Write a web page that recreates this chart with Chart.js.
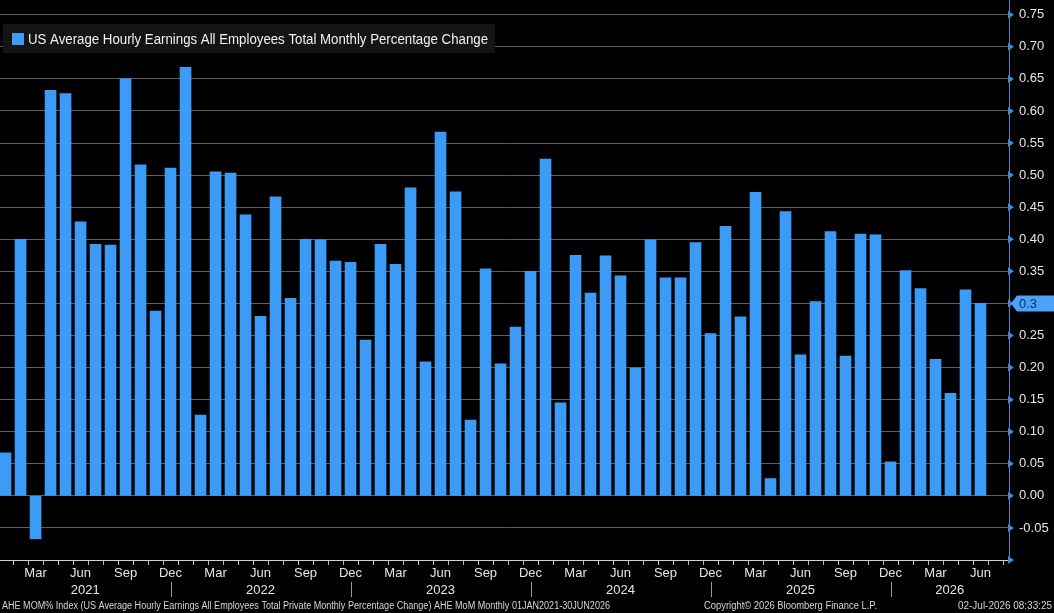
<!DOCTYPE html>
<html>
<head>
<meta charset="utf-8">
<style>
  html, body { margin: 0; padding: 0; background: #000; overflow: hidden; }
  #chart { display: block; }
</style>
<script src="https://cdn.jsdelivr.net/npm/chart.js@4/dist/chart.umd.min.js"></script>
</head>
<body>
<canvas id="chart" width="1054" height="613"></canvas>
<script>
const monthNames = ['Jan', 'Feb', 'Mar', 'Apr', 'May', 'Jun', 'Jul', 'Aug', 'Sep', 'Oct', 'Nov', 'Dec'];
const years = [2021, 2022, 2023, 2024, 2025, 2026];

// monthly % change
const ahe2021 = [0.067, 0.40, -0.067, 0.632, 0.627, 0.427, 0.392, 0.391, 0.650, 0.516, 0.288, 0.511];
const ahe2022 = [0.668, 0.126, 0.505, 0.503, 0.438, 0.280, 0.466, 0.308, 0.400, 0.399, 0.366, 0.364];
const ahe2023 = [0.243, 0.392, 0.361, 0.480, 0.209, 0.567, 0.474, 0.118, 0.354, 0.206, 0.263, 0.350];
const ahe2024 = [0.525, 0.145, 0.375, 0.316, 0.374, 0.343, 0.199, 0.399, 0.340, 0.340, 0.395, 0.253];
const ahe2025 = [0.420, 0.279, 0.473, 0.027, 0.443, 0.220, 0.303, 0.412, 0.218, 0.408, 0.407, 0.053];
const ahe2026 = [0.351, 0.323, 0.213, 0.160, 0.321, 0.30];

const yTickValues = [-0.10, -0.05, 0.00, 0.05, 0.10, 0.15, 0.20, 0.25, 0.30, 0.35, 0.40, 0.45, 0.50, 0.55, 0.60, 0.65, 0.70, 0.75];
const legendText = 'US Average Hourly Earnings All Employees Total Monthly Percentage Change';
const footerLeft = 'AHE MOM% Index (US Average Hourly Earnings All Employees Total Private Monthly Percentage Change) AHE MoM Monthly 01JAN2021-30JUN2026';
const footerMid = 'Copyright\u00A9 2026 Bloomberg Finance L.P.';
const footerRight = '02-Jul-2026 08:33:25';

const values = [].concat(ahe2021, ahe2022, ahe2023, ahe2024, ahe2025, ahe2026);
const points = values.map((v, i) => ({ x: i, y: v }));

const FONT = '"Liberation Sans", Arial, sans-serif';
const BAR_BLUE = '#3d9bf8';
const AXIS_BLUE = '#4a86c8';

// draws text squeezed/stretched to a given width
function fitText(ctx, text, x, y, w, size) {
    ctx.font = size + 'px ' + FONT;
    const m = ctx.measureText(text).width;
    ctx.save();
    ctx.translate(x, y);
    ctx.scale(w / m, 1);
    ctx.fillText(text, 0, 0);
    ctx.restore();
}

function noPadding(scale) {
    scale.paddingTop = 0;
    scale.paddingBottom = 0;
    scale.paddingLeft = 0;
    scale.paddingRight = 0;
}

const bbgDecor = {
    id: 'bbgDecor',
    afterDraw(chart) {
        const ctx = chart.ctx;
        const xs = chart.scales.x;
        const ys = chart.scales.y;
        const area = chart.chartArea;

        // arrows on the major y ticks
        ctx.fillStyle = AXIS_BLUE;
        yTickValues.forEach(v => {
            const y = ys.getPixelForValue(v);
            ctx.beginPath();
            ctx.moveTo(area.right - 1, y - 4);
            ctx.lineTo(area.right + 5, y);
            ctx.lineTo(area.right - 1, y + 4);
            ctx.closePath();
            ctx.fill();
        });

        // last value tag
        const last = values[values.length - 1];
        const ly = ys.getPixelForValue(last);
        ctx.fillStyle = '#4aa2fb';
        ctx.beginPath();
        ctx.moveTo(area.right + 2, ly);
        ctx.lineTo(area.right + 8, ly - 8);
        ctx.lineTo(chart.width, ly - 8);
        ctx.lineTo(chart.width, ly + 8);
        ctx.lineTo(area.right + 8, ly + 8);
        ctx.closePath();
        ctx.fill();
        ctx.fillStyle = '#0c2b57';
        ctx.font = '13px ' + FONT;
        ctx.textBaseline = 'middle';
        ctx.textAlign = 'left';
        ctx.fillText(String(last), area.right + 10, ly + 1);

        // year separators and labels
        ctx.strokeStyle = '#9a9a9a';
        ctx.lineWidth = 1;
        ctx.fillStyle = '#e6e6e6';
        ctx.textAlign = 'center';
        years.forEach((yr, k) => {
            const left = k === 0 ? area.left : xs.getPixelForValue(12 * k - 1);
            const right = k === years.length - 1 ? area.right : xs.getPixelForValue(12 * k + 11);
            if (k < years.length - 1) {
                const sx = Math.round(right) + 0.5;
                ctx.beginPath();
                ctx.moveTo(sx, 582);
                ctx.lineTo(sx, 597);
                ctx.stroke();
            }
            ctx.fillText(String(yr), (left + right) / 2, 590);
        });

        // legend box
        ctx.fillStyle = '#141414';
        ctx.fillRect(3, 24, 492, 29);
        ctx.fillStyle = BAR_BLUE;
        ctx.fillRect(12, 33, 12, 12);
        ctx.fillStyle = '#f0f0f0';
        ctx.textAlign = 'left';
        fitText(ctx, legendText, 28, 40, 460, 14);

        // footer
        ctx.fillStyle = '#d6d6d6';
        fitText(ctx, footerLeft, 2, 606, 608, 10);
        fitText(ctx, footerMid, 704, 606, 173, 10);
        fitText(ctx, footerRight, 958, 606, 94, 10);
    }
};

new Chart(document.getElementById('chart'), {
    type: 'bar',
    data: {
        datasets: [{
            label: legendText,
            data: points,
            backgroundColor: BAR_BLUE,
            barThickness: 11,
            borderWidth: 0
        }]
    },
    options: {
        responsive: false,
        animation: false,
        devicePixelRatio: 1,
        layout: { padding: 0 },
        plugins: {
            legend: { display: false },
            tooltip: { enabled: false }
        },
        scales: {
            x: {
                type: 'linear',
                offset: false,
                min: -0.37,
                max: 66.9,
                afterBuildTicks: (scale) => {
                    const t = [];
                    for (let i = 0; i <= 66; i++) t.push({ value: i });
                    scale.ticks = t;
                },
                afterFit: (scale) => { scale.height = 53; noPadding(scale); },
                ticks: {
                    autoSkip: false,
                    maxRotation: 0,
                    minRotation: 0,
                    padding: 1,
                    color: '#e6e6e6',
                    font: { family: FONT, size: 13 },
                    callback: (v) => (v % 3 === 2 ? monthNames[v % 12] : '')
                },
                grid: {
                    drawOnChartArea: false,
                    tickLength: 5,
                    tickColor: '#bdbdbd'
                },
                border: { color: '#cfcfcf', width: 1 }
            },
            y: {
                position: 'right',
                min: -0.10,
                max: 0.773,
                afterBuildTicks: (scale) => {
                    const t = [];
                    for (let k = 0; k <= 34; k++) {
                        t.push({ value: Math.round((-0.10 + 0.025 * k) * 1000) / 1000 });
                    }
                    scale.ticks = t;
                },
                afterFit: (scale) => { scale.width = 45; noPadding(scale); },
                ticks: {
                    padding: 6,
                    color: '#e6e6e6',
                    font: { family: FONT, size: 13 },
                    callback: (v) => {
                        const m = Math.round(v * 1000);
                        if (m % 50 !== 0 || m <= -100) return '';
                        return v.toFixed(2);
                    }
                },
                grid: {
                    color: (c) => {
                        const m = Math.round(c.tick.value * 1000);
                        return (m % 50 === 0 && m > -100) ? '#5e5e5e' : 'rgba(0,0,0,0)';
                    },
                    tickLength: 4,
                    tickColor: AXIS_BLUE
                },
                border: { color: AXIS_BLUE, width: 1 }
            }
        }
    },
    plugins: [bbgDecor]
});
</script>
</body>
</html>
